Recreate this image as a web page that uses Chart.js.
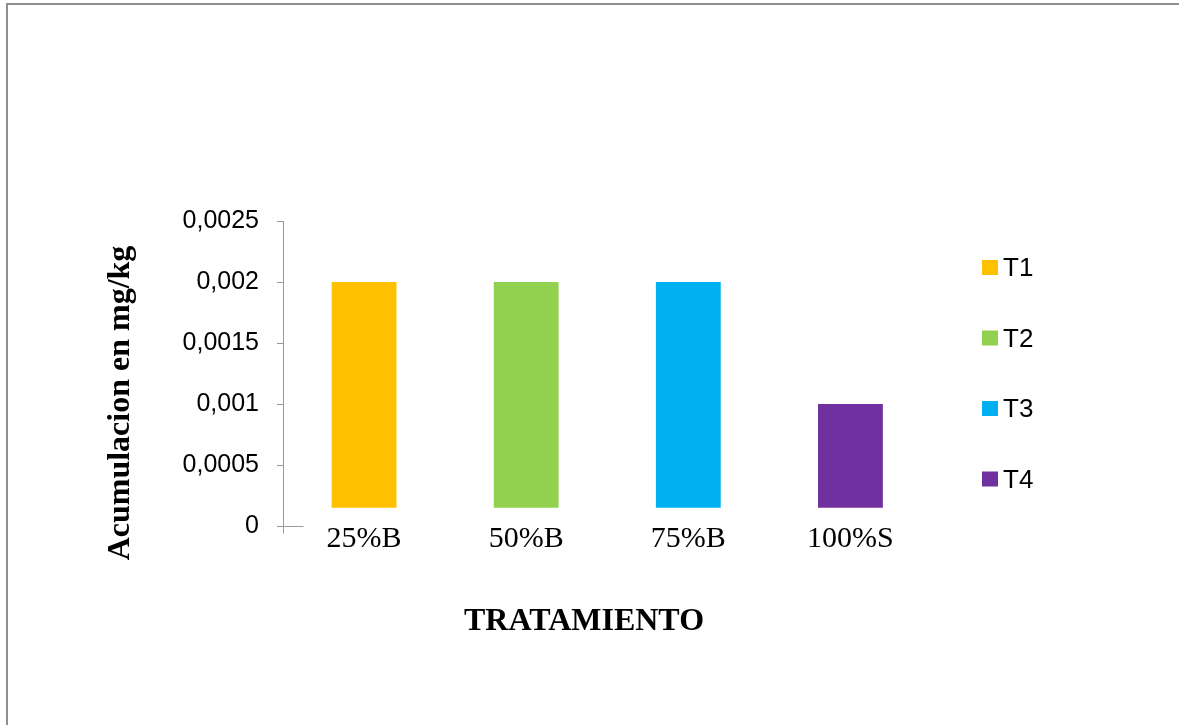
<!DOCTYPE html>
<html>
<head>
<meta charset="utf-8">
<script src="https://cdn.jsdelivr.net/npm/chart.js@4/dist/chart.umd.min.js"></script>
<style>
  html, body { margin: 0; padding: 0; background: #ffffff; }
  #wrap { width: 1179px; height: 725px; position: relative; }
</style>
</head>
<body>
<div id="wrap"><canvas id="c" width="1179" height="725"></canvas></div>
<script>
// ---- data ----
const categories = ['25%B', '50%B', '75%B', '100%S'];
const seriesNames = ['T1', 'T2', 'T3', 'T4'];
const seriesValues = [0.002, 0.002, 0.002, 0.001];
const barBase = 0.00015;
const seriesColors = ['#FFC000', '#92D050', '#00B0F0', '#7030A0'];
const yTickValues = [0, 0.0005, 0.001, 0.0015, 0.002, 0.0025];
const yTickLabels = ['0', '0,0005', '0,001', '0,0015', '0,002', '0,0025'];
const yTitle = 'Acumulacion en mg/kg';
const xTitle = 'TRATAMIENTO';

const datasets = seriesNames.map((name, i) => ({
  label: name,
  data: categories.map((c, j) => (j === i ? seriesValues[i] : null)),
  backgroundColor: seriesColors[i],
  base: barBase,
  grouped: false,
  barPercentage: 0.4,
  categoryPercentage: 1.0,
  borderWidth: 0
}));

const axisColor = '#9a9a9a';

const decorPlugin = {
  id: 'decor',
  beforeDraw(chart) {
    const ctx = chart.ctx;
    ctx.save();
    ctx.fillStyle = '#ffffff';
    ctx.fillRect(0, 0, chart.width, chart.height);
    ctx.strokeStyle = '#8e8e8e';
    ctx.lineWidth = 2;
    ctx.strokeRect(7, 4, 1400, 1000);
    ctx.restore();
  },
  afterDraw(chart) {
    const ctx = chart.ctx;
    const ca = chart.chartArea;
    const y0 = Math.round(chart.scales.y.getPixelForValue(0)) + 0.5;
    const ax = Math.round(ca.left) + 0.5;
    ctx.save();
    ctx.strokeStyle = axisColor;
    ctx.lineWidth = 1;
    ctx.beginPath();
    ctx.moveTo(ax, y0);
    ctx.lineTo(ax + 20, y0);
    ctx.moveTo(ax, y0);
    ctx.lineTo(ax, y0 + 7);
    ctx.stroke();

    // axis titles
    ctx.fillStyle = '#000000';
    ctx.font = 'bold 32px "Liberation Serif", "Times New Roman", serif';
    ctx.textAlign = 'center';
    ctx.textBaseline = 'middle';
    ctx.fillText(xTitle, 584, 622);
    ctx.save();
    ctx.translate(121, 403);
    ctx.rotate(-Math.PI / 2);
    ctx.font = 'bold 32px "Liberation Serif", "Times New Roman", serif';
    ctx.fillText(yTitle, 0, 0);
    ctx.restore();

    // legend
    ctx.font = '26px "Liberation Sans", Arial, sans-serif';
    ctx.textAlign = 'left';
    ctx.textBaseline = 'middle';
    const centers = [268, 338.5, 409, 479.5];
    chart.data.datasets.forEach((ds, i) => {
      const cy = centers[i];
      ctx.fillStyle = ds.backgroundColor;
      ctx.fillRect(982, cy - 8, 16, 15);
      ctx.fillStyle = '#000000';
      ctx.fillText(ds.label, 1003, cy + 1);
    });
    ctx.restore();
  }
};

new Chart(document.getElementById('c'), {
  type: 'bar',
  data: { labels: categories, datasets },
  plugins: [decorPlugin],
  options: {
    responsive: false,
    animation: false,
    devicePixelRatio: 1,
    layout: { padding: { left: 0, right: 247.5, top: 221, bottom: 0 } },
    plugins: {
      legend: { display: false },
      tooltip: { enabled: false },
      title: { display: false }
    },
    scales: {
      x: {
        grid: { display: false, drawTicks: false },
        border: { display: false },
        ticks: {
          color: '#000000',
          padding: -5,
          font: { family: '"Liberation Serif", "Times New Roman", serif', size: 30 },
          maxRotation: 0,
          autoSkip: false
        },
        afterFit(scale) { scale.height = 199; }
      },
      y: {
        min: 0,
        max: 0.0025,
        afterBuildTicks(scale) {
          scale.ticks = yTickValues.map(v => ({ value: v }));
        },
        grid: {
          drawOnChartArea: false,
          drawTicks: true,
          tickLength: 6,
          color: axisColor
        },
        border: { display: true, color: axisColor, width: 1 },
        ticks: {
          color: '#000000',
          padding: 18,
          font: { family: '"Liberation Sans", Arial, sans-serif', size: 25 },
          callback(value, index) { return yTickLabels[index]; }
        },
        afterFit(scale) { scale.width = 283; }
      }
    }
  }
});
</script>
</body>
</html>
